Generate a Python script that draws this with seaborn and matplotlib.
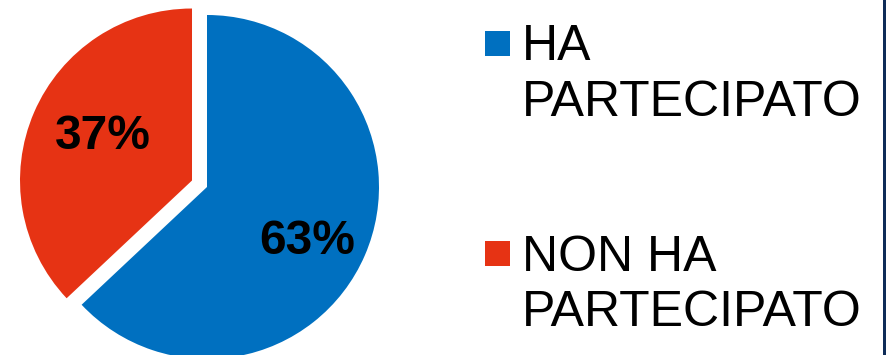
import matplotlib
matplotlib.use("Agg")
import matplotlib.pyplot as plt
import seaborn as sns
from matplotlib.patches import Rectangle

labels = ["HA PARTECIPATO", "NON HA PARTECIPATO"]
legend_lines = [["HA", "PARTECIPATO"], ["NON HA", "PARTECIPATO"]]
values = [63, 37]
colors = ["#0070C0", "#E63314"]
explode = [0, 0.095]

sns.set_theme(style="white")
plt.rcParams["font.family"] = ["Liberation Sans", "DejaVu Sans"]

W, H = 887, 355
fig = plt.figure(figsize=(W / 100, H / 100), dpi=100)
fig.patch.set_facecolor("white")

# pie axes: square box of 400 px centred on (207, 187) px from top-left
cx, cy, r_px, box = 207, 187, 172, 400
ax = fig.add_axes([(cx - box / 2) / W, (H - cy - box / 2) / H, box / W, box / H])
wedges, texts, pcts = ax.pie(
    values, colors=colors, explode=explode, startangle=90, counterclock=False,
    autopct=lambda p: f"{p:.0f}%", pctdistance=0.63,
    wedgeprops=dict(linewidth=0),
    textprops=dict(fontsize=34.5, fontweight="bold", color="black"))
# nudge the percent labels to where they sit in the original
pcts[0].set_position((0.585, -0.314))
pcts[1].set_position((-0.603, 0.294))
lim = box / 2 / r_px
ax.set_xlim(-lim, lim)
ax.set_ylim(-lim, lim)
ax.set_aspect("equal")
ax.axis("off")

# legend with two-line labels, marker next to the first line
entries = [(31, [60, 116]), (241, [271, 326])]
for (sq_top, baselines), lines, col in zip(entries, legend_lines, colors):
    fig.patches.append(Rectangle((485 / W, 1 - (sq_top + 25) / H), 25 / W, 25 / H,
                                 transform=fig.transFigure, facecolor=col,
                                 edgecolor="none"))
    for b, line in zip(baselines, lines):
        fig.text(522 / W, 1 - b / H, line, fontsize=36, color="black",
                 ha="left", va="baseline")

# dark edge on the right
fig.patches.append(Rectangle((883 / W, 0), 4 / W, 1, transform=fig.transFigure,
                             facecolor="#0E2C58", edgecolor="none"))

fig.savefig("out.png", dpi=100)
